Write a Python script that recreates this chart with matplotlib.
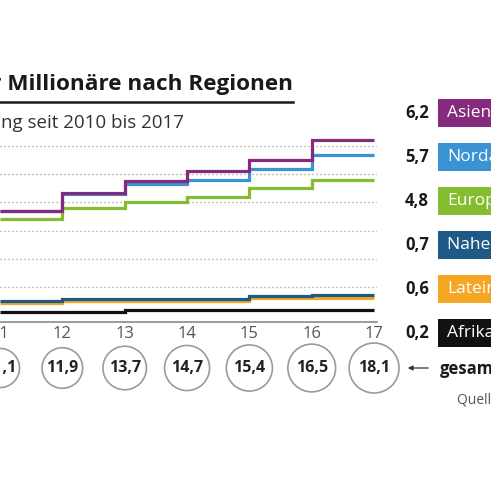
import numpy as np
import matplotlib
matplotlib.use("Agg")
import matplotlib.pyplot as plt

# Millionäre in Mio. je Region (Wert gilt für das Jahr bis zur Markierung)
jahre = [2012, 2013, 2014, 2015, 2016, 2017]
asien = [3.7, 4.35, 4.75, 5.1, 5.5, 6.2]
nordamerika = [3.7, 4.3, 4.65, 4.8, 5.2, 5.7]
europa = [3.4, 3.8, 4.0, 4.2, 4.5, 4.8]
naher_osten = [0.48, 0.56, 0.57, 0.57, 0.66, 0.72]
lateinamerika = [0.42, 0.5, 0.5, 0.5, 0.6, 0.62]
afrika = [0.1, 0.1, 0.17, 0.17, 0.17, 0.17]

# Gesamtzahl je Jahr
gesamt_jahre = [2011, 2012, 2013, 2014, 2015, 2016, 2017]
gesamt = [11.1, 11.9, 13.7, 14.7, 15.4, 16.5, 18.1]

regionen = ["Asien", "Nordamerika", "Europa", "Naher Osten", "Lateinamerika", "Afrika"]
serien = [asien, nordamerika, europa, naher_osten, lateinamerika, afrika]
farben = ["#862a7d", "#3b93d3", "#84bd2f", "#1e5a86", "#f5a623", "#111111"]

plt.rcParams['font.family'] = ['Open Sans', 'DejaVu Sans']

W, H = 491, 480
fig = plt.figure(figsize=(W / 100, H / 100), dpi=100)

def fx(px):
    return px / W

def fy(py):
    return 1 - py / H

# Achse: 11 liegt knapp links vom Bildrand, 17 bei ~374 px
ax = fig.add_axes([0, fy(322), fx(377), (322 - 132) / H])
ax.set_xlim(11.016, 17.047)
ax.set_ylim(-0.25, 6.5)

ax.set_yticks([1, 2, 3, 4, 5, 6])
ax.grid(axis='y', color='#9a9a9a', linestyle=(0, (1, 2.2)), linewidth=0.9)
ax.set_axisbelow(True)

kanten = np.r_[jahre[0] - 1, jahre] - 2000
# von unten nach oben zeichnen
for werte, farbe in list(zip(serien, farben))[::-1]:
    ax.stairs(werte, kanten, baseline=None, color=farbe, linewidth=2.3)

for s in ['top', 'left', 'right']:
    ax.spines[s].set_visible(False)
ax.spines['bottom'].set_color('#8a8a8a')
ax.spines['bottom'].set_linewidth(1.2)
ax.tick_params(axis='y', left=False, labelleft=False)
ax.tick_params(axis='x', length=0, pad=3, labelsize=12, labelcolor='#555555')
ax.set_xticks([j - 2000 for j in gesamt_jahre])
ax.set_xticklabels([str(j)[2:] for j in gesamt_jahre])

# Kreise mit Gesamtzahlen, Fläche proportional zum Wert
x_kreis = [j - 2000 for j in gesamt_jahre]
groesse = [36 ** 2 * g / max(gesamt) for g in gesamt]
trans = ax.get_xaxis_transform()
y_kreis = (322 - 368) / (322 - 132)
ax.scatter(x_kreis, [y_kreis] * len(x_kreis), s=groesse, transform=trans,
           facecolor='white', edgecolor='#9a9a9a', linewidth=1.2, clip_on=False, zorder=5)
for x, g in zip(x_kreis, gesamt):
    ax.text(x, y_kreis, f"{g:.1f}".replace('.', ','), transform=trans, ha='center', va='center',
            fontsize=11.5, fontweight='bold', color='#222222', clip_on=False, zorder=6)

# Titel
fig.text(fx(293), fy(90), "Anzahl der Millionäre nach Regionen", ha='right', va='baseline',
         fontsize=16.2, fontweight='bold', color='#1a1a1a')
fig.add_artist(plt.Line2D([0, fx(293)], [fy(101.5), fy(101.5)], color='#1a1a1a', linewidth=1.8))
fig.text(fx(184), fy(128), "Entwicklung seit 2010 bis 2017", ha='right', va='baseline',
         fontsize=13.5, color='#333333')

# Legende rechts
y_legende = [113, 157, 201, 245, 289, 333]
for name, werte, farbe, yl in zip(regionen, serien, farben, y_legende):
    fig.text(fx(429), fy(yl), f"{werte[-1]:.1f}".replace('.', ','), ha='right', va='center',
             fontsize=12, fontweight='bold', color='#1a1a1a')
    fig.add_artist(plt.Rectangle((fx(438), fy(yl + 14)), fx(120), 28 / H,
                                 facecolor=farbe, edgecolor='none'))
    fig.text(fx(447), fy(yl), name, ha='left', va='center', fontsize=12.5, color='white')

# gesamt
ax.annotate("", xy=(fx(405), fy(368)), xytext=(fx(431), fy(368)), xycoords='figure fraction',
            textcoords='figure fraction', annotation_clip=False,
            arrowprops=dict(arrowstyle='-|>', color='#333333', lw=0.9, mutation_scale=7))
fig.text(fx(440), fy(369), "gesamt", ha='left', va='center', fontsize=12,
         fontweight='bold', color='#1a1a1a')
fig.text(fx(457), fy(400), "Quelle: Capgemini", ha='left', va='center', fontsize=10,
         color='#555555')

fig.savefig("out.png", dpi=100)
